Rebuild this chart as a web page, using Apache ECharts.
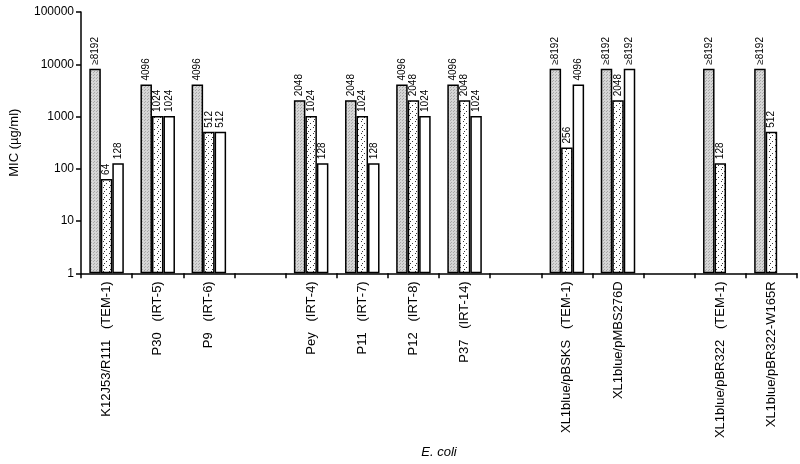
<!DOCTYPE html>
<html><head><meta charset="utf-8">
<script src="https://cdn.jsdelivr.net/npm/echarts@6/dist/echarts.min.js"></script>
<style>html,body{margin:0;padding:0;background:#fff}#c{width:800px;height:464px}</style>
</head><body><div id="c"></div>
<script>
const categories = ['K12J53/R111   (TEM-1)','P30   (IRT-5)','P9   (IRT-6)','','Pey   (IRT-4)','P11   (IRT-7)','P12   (IRT-8)','P37   (IRT-14)','','XL1blue/pBSKS   (TEM-1)','XL1blue/pMBS276D','','XL1blue/pBR322   (TEM-1)','XL1blue/pBR322-W165R'];
const series1 = [8192,4096,4096,null,2048,2048,4096,4096,null,8192,8192,null,8192,8192];
const series2 = [64,1024,512,null,1024,1024,2048,2048,null,256,2048,null,128,512];
const series3 = [128,1024,512,null,128,128,1024,1024,null,4096,8192,null,null,null];
const labels1 = ['≥8192','4096','4096','','2048','2048','4096','4096','','≥8192','≥8192','','≥8192','≥8192'];
const labels2 = ['64','1024','512','','1024','1024','2048','2048','','256','2048','','128','512'];
const labels3 = ['128','1024','512','','128','128','1024','1024','','4096','≥8192','','',''];
const yTicks = [1,10,100,1000,10000,100000];

function makePattern(bg, dot, size, pts){
  const c = document.createElement('canvas'); c.width = size; c.height = size;
  const g = c.getContext('2d'); g.fillStyle = bg; g.fillRect(0,0,size,size);
  g.fillStyle = dot; pts.forEach(p=>g.fillRect(p[0],p[1],1,1));
  return c;
}
const grayPat = makePattern('#d6d6d6','#a8a8a8',3,[[0,0],[1,2]]);
const dotPat = makePattern('#ffffff','#333333',6,[[1,1],[4,3],[2,5]]);

function lab(arr){
  return {show:true, position:'top', rotate:90, align:'left', verticalAlign:'middle', distance:4,
    fontFamily:'Liberation Sans, Arial', fontSize:10, color:'#000',
    formatter: p => arr[p.dataIndex]};
}
const chart = echarts.init(document.getElementById('c'), null, {renderer:'canvas'});
chart.setOption({
  animation:false,
  grid:{left:80, right:3, top:12, bottom:188},
  xAxis:{type:'category', data:categories,
    axisLine:{lineStyle:{color:'#000', width:1.5}},
    axisTick:{show:true, length:5, lineStyle:{color:'#000', width:1.5}, alignWithLabel:false},
    axisLabel:{rotate:90, interval:0, fontFamily:'Liberation Sans, Arial', fontSize:13, color:'#000', margin:8},
    name:'E. coli', nameLocation:'middle', nameGap:172,
    nameTextStyle:{fontStyle:'italic', fontFamily:'Liberation Sans, Arial', fontSize:13, color:'#000'}
  },
  yAxis:{type:'log', logBase:10, min:1, max:100000,
    axisLine:{show:true, lineStyle:{color:'#000', width:1.5}},
    axisTick:{show:true, length:5, lineStyle:{color:'#000', width:1.5}},
    minorTick:{show:false},
    splitLine:{show:false},
    axisLabel:{fontFamily:'Liberation Sans, Arial', fontSize:12, color:'#000', margin:7,
      formatter: v => String(Math.round(v))},
    name:'MIC (µg/ml)', nameLocation:'middle', nameGap:60, nameRotate:90,
    nameTextStyle:{fontFamily:'Liberation Sans, Arial', fontSize:13, color:'#000'}
  },
  series:[
    {type:'bar', data:series1, barWidth:11.5, barGap:'0%',
      itemStyle:{color:{image:grayPat, repeat:'repeat'}, borderColor:'#000', borderWidth:1.5}, label:lab(labels1)},
    {type:'bar', data:series2, barWidth:11.5, barGap:'0%',
      itemStyle:{color:{image:dotPat, repeat:'repeat'}, borderColor:'#000', borderWidth:1.5}, label:lab(labels2)},
    {type:'bar', data:series3, barWidth:11.5, barGap:'0%',
      itemStyle:{color:'#fff', borderColor:'#000', borderWidth:1.5}, label:lab(labels3)}
  ]
});
</script></body></html>
